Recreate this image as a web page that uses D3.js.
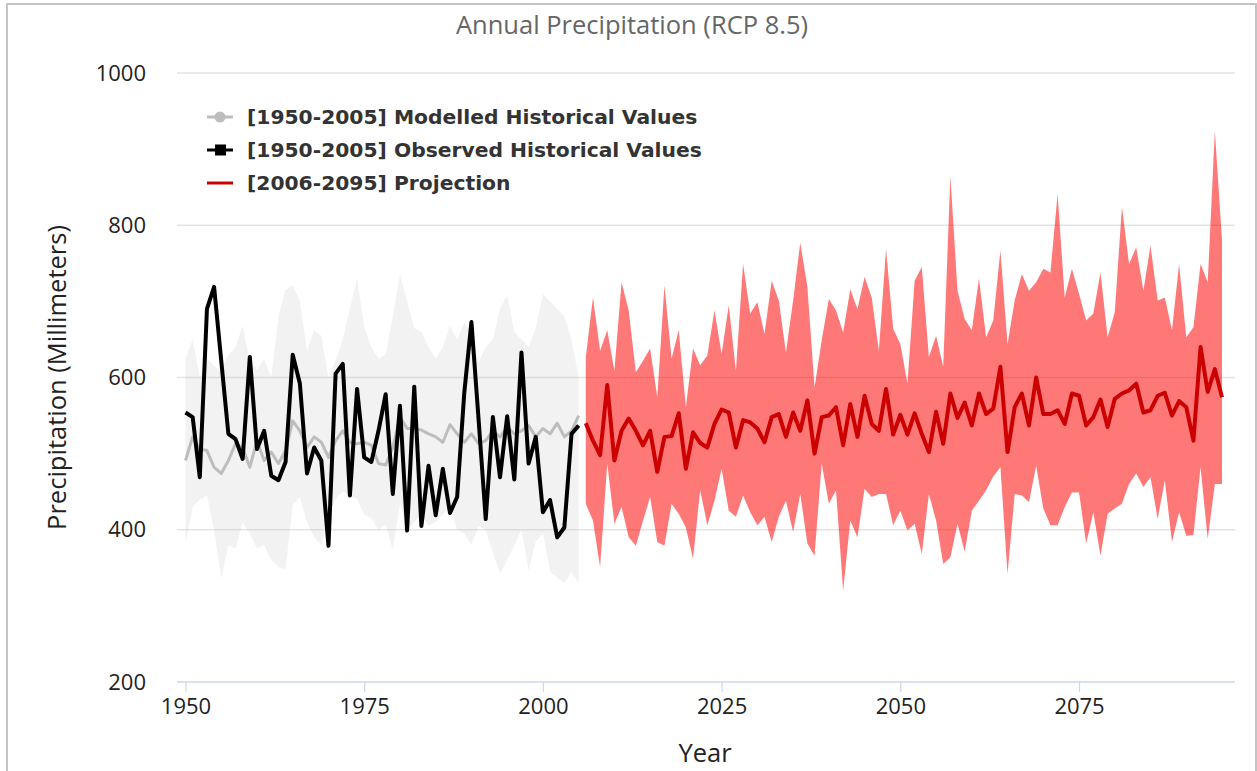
<!DOCTYPE html>
<html>
<head>
<meta charset="utf-8">
<script src="https://cdn.jsdelivr.net/npm/d3@7"></script>
<style>
  html, body { margin: 0; padding: 0; background: #fff; }
  svg { display: block; }
</style>
</head>
<body>
<svg id="chart" width="1257" height="771"></svg>
<script>
// Modelled historical ensemble (1950-2005): median and spread
const histYears = d3.range(1950, 2006);
const modelledMedian = [
  491, 522, 506, 504, 482, 474, 491, 513, 508, 482,
  517, 491, 502, 487, 504, 543, 530, 508, 522, 515,
  495, 517, 530, 515, 513, 515, 511, 487, 485, 508,
  548, 533, 533, 531, 526, 522, 515, 538, 526, 515,
  526, 513, 517, 530, 522, 535, 526, 530, 537, 522,
  533, 526, 540, 522, 530, 550
];
const modelledUpper = [
  625, 650, 600, 625, 615, 610, 630, 640, 668, 620,
  610, 625, 600, 680, 715, 722, 700, 635, 662, 655,
  600, 622, 650, 690, 730, 666, 640, 625, 630, 680,
  735, 700, 665, 660, 640, 625, 640, 668, 650, 672,
  660, 620, 640, 650, 690, 708, 660, 650, 640, 665,
  710, 700, 690, 680, 650, 600
];
const modelledLower = [
  380, 430, 440, 445, 400, 336, 380, 375, 410, 395,
  375, 380, 360, 351, 348, 433, 443, 410, 390, 380,
  420, 440, 451, 445, 440, 420, 415, 400, 408, 373,
  434, 400, 410, 420, 405, 410, 420, 430, 400, 395,
  380, 405, 400, 370, 343, 360, 380, 400, 346, 385,
  395, 345, 337, 330, 345, 330
];
// Observed station record (1950-2005)
const observed = [
  554, 548, 469, 690, 719, 622, 526, 519, 493, 627,
  506, 530, 471, 465, 489, 630, 592, 474, 508, 491,
  379, 605, 618, 445, 585, 495, 489, 530, 578, 447,
  563, 399, 588, 405, 484, 419, 480, 422, 443, 580,
  673, 545, 414, 548, 469, 549, 466, 633, 487, 522,
  423, 439, 390, 403, 526, 537
];

// RCP 8.5 projection (2006-2095): median and spread
const projYears = d3.range(2006, 2096);
const projMedian = [
  540, 517, 498, 590, 491, 530, 546, 530, 511, 530,
  476, 522, 523, 553, 480, 528, 514, 508, 539, 558,
  554, 508, 544, 541, 533, 515, 548, 552, 522, 554,
  530, 570, 500, 548, 550, 561, 511, 565, 522, 576,
  539, 530, 585, 525, 551, 525, 553, 526, 502, 555,
  513, 579, 547, 567, 537, 579, 552, 559, 614, 502,
  561, 579, 537, 600, 552, 552, 557, 539, 579, 576,
  537, 548, 571, 535, 572, 579, 583, 592, 554, 557,
  576, 580, 550, 569, 561, 517, 640, 581, 611, 574
];
const projUpper = [
  627, 705, 635, 662, 609, 725, 688, 607, 622, 638,
  574, 721, 625, 662, 561, 638, 616, 629, 688, 631,
  695, 609, 749, 684, 699, 657, 727, 701, 633, 701,
  777, 719, 587, 649, 703, 688, 659, 716, 690, 732,
  705, 635, 769, 664, 644, 592, 727, 745, 627, 655,
  614, 865, 714, 677, 662, 730, 653, 675, 767, 644,
  701, 736, 714, 725, 743, 738, 841, 705, 743, 710,
  675, 684, 738, 653, 686, 824, 749, 771, 714, 773,
  701, 705, 662, 749, 653, 666, 749, 725, 924, 780
];
const projLower = [
  434, 412, 351, 487, 408, 430, 390, 379, 412, 443,
  384, 379, 434, 421, 403, 362, 452, 406, 438, 480,
  425, 417, 445, 423, 406, 417, 384, 417, 438, 397,
  447, 382, 366, 487, 434, 452, 320, 412, 390, 454,
  443, 447, 447, 406, 425, 399, 408, 368, 447, 412,
  355, 364, 408, 371, 425, 438, 452, 470, 482, 342,
  447, 445, 436, 484, 428, 406, 406, 430, 449, 449,
  382, 423, 366, 421, 428, 434, 460, 474, 456, 469,
  414, 465, 384, 423, 392, 393, 482, 388, 460, 460
];

// Axis ticks and text
const xTicks = [1950, 1975, 2000, 2025, 2050, 2075];
const yTicks = [200, 400, 600, 800, 1000];
const titleText = "Annual Precipitation (RCP 8.5)";
const xTitle = "Year";
const yTitle = "Precipitation (Millimeters)";
const legendLabels = [
  "[1950-2005] Modelled Historical Values",
  "[1950-2005] Observed Historical Values",
  "[2006-2095] Projection"
];

const svg = d3.select("#chart");
const plotLeft = 177, plotRight = 1235, plotTop = 73, plotBottom = 682;

const x = d3.scaleLinear().domain([1950, 2095]).range([185.5, 1222]);
const y = d3.scaleLinear().domain([200, 1000]).range([plotBottom, plotTop]);

const tickFont = "'Open Sans', 'Noto Sans', sans-serif";

// outer frame
svg.append("rect")
  .attr("x", 7).attr("y", 4)
  .attr("width", 1249).attr("height", 820)
  .attr("fill", "#fff")
  .attr("stroke", "#c4c4c4").attr("stroke-width", 2);

// title
svg.append("text")
  .attr("x", 632).attr("y", 34)
  .attr("text-anchor", "middle")
  .attr("font-family", tickFont)
  .attr("font-size", 25.5)
  .attr("fill", "#666")
  .text(titleText);

// horizontal gridlines
svg.append("g").selectAll("line")
  .data(yTicks.filter(d => d !== 200))
  .join("line")
  .attr("x1", plotLeft).attr("x2", plotRight)
  .attr("y1", d => y(d)).attr("y2", d => y(d))
  .attr("stroke", "#e3e3e3").attr("stroke-width", 1.5);

// y tick labels
const yAxis = d3.axisLeft(y).tickValues(yTicks).tickFormat(d3.format("d"))
  .tickSize(0).tickPadding(0);
const yg = svg.append("g")
  .attr("transform", `translate(146,0)`)
  .call(yAxis);
yg.select(".domain").remove();
yg.selectAll("text")
  .attr("font-family", tickFont)
  .attr("font-size", 22)
  .attr("fill", "#222");

// y title
svg.append("text")
  .attr("transform", `translate(66,${(plotTop + plotBottom) / 2}) rotate(-90)`)
  .attr("text-anchor", "middle")
  .attr("font-family", tickFont)
  .attr("font-size", 25.5)
  .attr("fill", "#222")
  .text(yTitle);

// x axis baseline and ticks
svg.append("line")
  .attr("x1", plotLeft).attr("x2", plotRight)
  .attr("y1", plotBottom).attr("y2", plotBottom)
  .attr("stroke", "#ccd6eb").attr("stroke-width", 1.5);

const xAxis = d3.axisBottom(x).tickValues(xTicks).tickFormat(d3.format("d"))
  .tickSize(10).tickPadding(6);
const xg = svg.append("g")
  .attr("transform", `translate(0,${plotBottom})`)
  .call(xAxis);
xg.select(".domain").remove();
xg.selectAll(".tick line").attr("stroke", "#ccd6eb").attr("stroke-width", 1.2);
xg.selectAll("text")
  .attr("font-family", tickFont)
  .attr("font-size", 22)
  .attr("fill", "#222");

// x title
svg.append("text")
  .attr("x", 705).attr("y", 762)
  .attr("text-anchor", "middle")
  .attr("font-family", tickFont)
  .attr("font-size", 25.5)
  .attr("fill", "#222")
  .text(xTitle);

// historical ensemble spread
const histBand = histYears.map((yr, i) => ({ yr, lo: modelledLower[i], hi: modelledUpper[i] }));
svg.append("path")
  .datum(histBand)
  .attr("fill", "rgba(200,200,200,0.24)")
  .attr("d", d3.area().x(d => x(d.yr)).y0(d => y(d.lo)).y1(d => y(d.hi)));

// projection spread
const projBand = projYears.map((yr, i) => ({ yr, lo: projLower[i], hi: projUpper[i] }));
svg.append("path")
  .datum(projBand)
  .attr("fill", "rgba(255,0,0,0.53)")
  .attr("d", d3.area().x(d => x(d.yr)).y0(d => y(d.lo)).y1(d => y(d.hi)));

const line = d3.line().x(d => x(d[0])).y(d => y(d[1]));

// modelled median
svg.append("path")
  .datum(histYears.map((yr, i) => [yr, modelledMedian[i]]))
  .attr("fill", "none")
  .attr("stroke", "#bdbdbd").attr("stroke-width", 3)
  .attr("stroke-linejoin", "round")
  .attr("d", line);

// observed
svg.append("path")
  .datum(histYears.map((yr, i) => [yr, observed[i]]))
  .attr("fill", "none")
  .attr("stroke", "#000").attr("stroke-width", 4)
  .attr("stroke-linejoin", "round")
  .attr("d", line);

// projection median
svg.append("path")
  .datum(projYears.map((yr, i) => [yr, projMedian[i]]))
  .attr("fill", "none")
  .attr("stroke", "#cc0000").attr("stroke-width", 4)
  .attr("stroke-linejoin", "round")
  .attr("d", line);

// legend
const legend = svg.append("g");
const rows = [
  { color: "#bdbdbd", marker: "circle" },
  { color: "#000", marker: "square" },
  { color: "#cc0000", marker: null }
];
rows.forEach((r, i) => {
  const cy = 117 + i * 33;
  const g = legend.append("g");
  g.append("line")
    .attr("x1", 207).attr("x2", 233)
    .attr("y1", cy).attr("y2", cy)
    .attr("stroke", r.color).attr("stroke-width", 3);
  if (r.marker === "circle") {
    g.append("circle").attr("cx", 220).attr("cy", cy).attr("r", 5.5).attr("fill", r.color);
  } else if (r.marker === "square") {
    g.append("rect").attr("x", 215).attr("y", cy - 5.5).attr("width", 11).attr("height", 11).attr("fill", r.color);
  }
  g.append("text")
    .attr("x", 247).attr("y", cy + 7)
    .attr("font-family", "'DejaVu Sans', sans-serif")
    .attr("font-weight", "bold")
    .attr("font-size", 20.3)
    .attr("fill", "#333")
    .text(legendLabels[i]);
});
</script>
</body>
</html>
